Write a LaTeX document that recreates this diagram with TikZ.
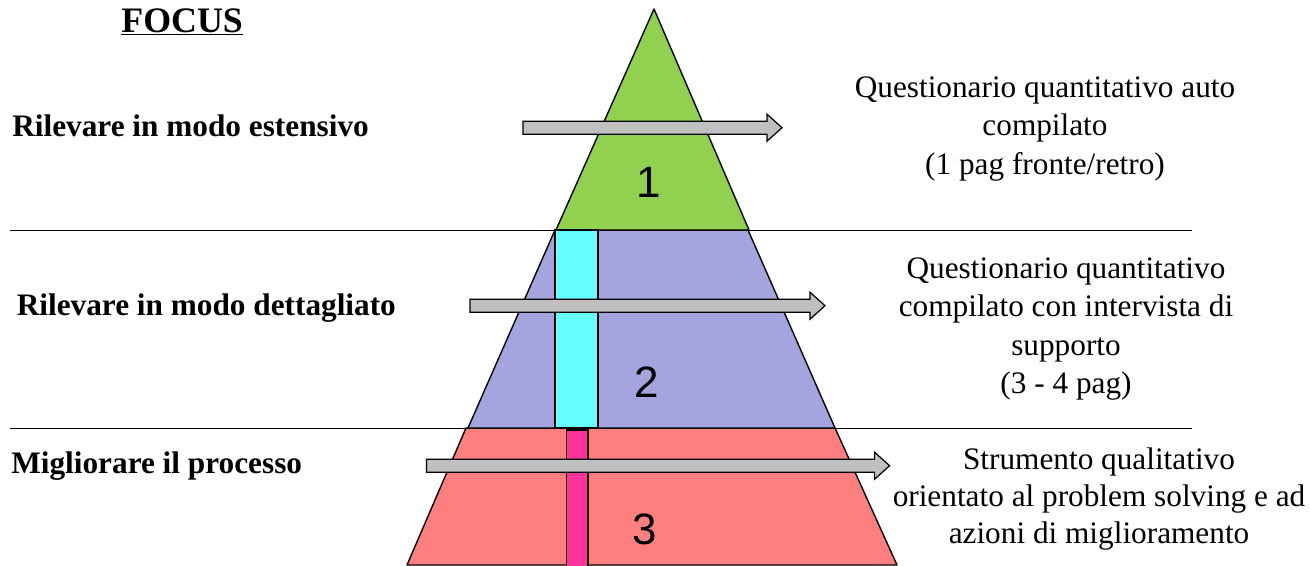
\documentclass[tikz,border=0pt]{standalone}
\usepackage{fontspec}
\setmainfont{Liberation Serif}
\newfontfamily\numfont{Liberation Sans}
\definecolor{pgreen}{RGB}{146,208,80}
\definecolor{pblue}{RGB}{164,164,222}
\definecolor{pred}{RGB}{255,127,127}
\definecolor{pcyan}{RGB}{102,255,255}
\definecolor{pmagenta}{RGB}{255,51,153}
\definecolor{parrow}{RGB}{192,192,192}
\usetikzlibrary{positioning}

\tikzset{
  tier/.style={draw=black, line width=0.8pt, line join=round},
  bar/.style={draw=black, line width=0.7pt},
  grayarrow/.style={draw=black, fill=parrow, line width=0.7pt},
  sepline/.style={draw=black, line width=0.5pt},
  focuslabel/.style={anchor=base west, inner sep=0pt, font=\fontsize{17.8}{21}\selectfont\bfseries},
  desclabel/.style={align=center, inner sep=0pt, font=\fontsize{17.8}{21.8}\selectfont},
  tiernum/.style={inner sep=0pt, font=\numfont\fontsize{25}{25}\selectfont}
}

% gray arrow: from x #1 to tip x #2 at height #3
\newcommand{\grayarrow}[3]{%
  \draw[grayarrow] (#1,#3-6.5) -- (#2-15,#3-6.5) -- (#2-15,#3-13.5) -- (#2,#3)
    -- (#2-15,#3+13.5) -- (#2-15,#3+6.5) -- (#1,#3+6.5) -- cycle;}

\begin{document}
\begin{tikzpicture}[x=0.02cm, y=-0.02cm]
  \useasboundingbox (0,0) rectangle (1310,565);

  %% Pyramid
  \draw[tier, fill=pred]   (466,428) -- (835,428) -- (897,565) -- (407,565) -- cycle;
  \draw[tier, fill=pblue]  (555,230) -- (748,230) -- (835,428) -- (468,428) -- cycle;
  \draw[tier, fill=pgreen] (654,9) -- (749,230) -- (556,230) -- cycle;

  %% Bars
  \draw[bar, fill=pcyan]    (555,230) rectangle (598,428);
  \draw[bar, fill=pmagenta] (566.5,430) rectangle (588,568);

  %% Separators
  \draw[sepline] (10,230) -- (1192,230);
  \draw[sepline] (10,428) -- (1192,428);

  %% Arrows
  \grayarrow{523}{782}{127.7}
  \grayarrow{470}{825}{305.7}
  \grayarrow{426.5}{889.6}{465.7}

  %% Tier numbers
  \node[tiernum] (n1) at (649,182.5) {1};
  \node[tiernum] (n2) at (647,381.7) {2};
  \node[tiernum] (n3) at (645,529)   {3};

  %% Left labels
  \node[anchor=base west, inner sep=0pt, font=\fontsize{20.4}{24}\selectfont\bfseries] (focus) at (121,32) {\underline{FOCUS}};
  \node[focuslabel] (l1) at (12,136.7)  {Rilevare in modo estensivo};
  \node[focuslabel] (l2) at (16.5,315)  {Rilevare in modo dettagliato};
  \node[focuslabel] (l3) at (11,473.3)  {Migliorare il processo};

  %% Right labels
  \node[desclabel] (d1) at (1045,129) {Questionario quantitativo auto\\compilato\\(1 pag fronte/retro)};
  \node[desclabel] (d2) at (1066,329) {Questionario quantitativo\\compilato con intervista di\\supporto\\(3 - 4 pag)};
  \node[desclabel, font=\fontsize{17.8}{20.8}\selectfont] (d3) at (1099,499) {Strumento qualitativo\\orientato al problem solving e ad\\azioni di miglioramento};
\end{tikzpicture}
\end{document}
